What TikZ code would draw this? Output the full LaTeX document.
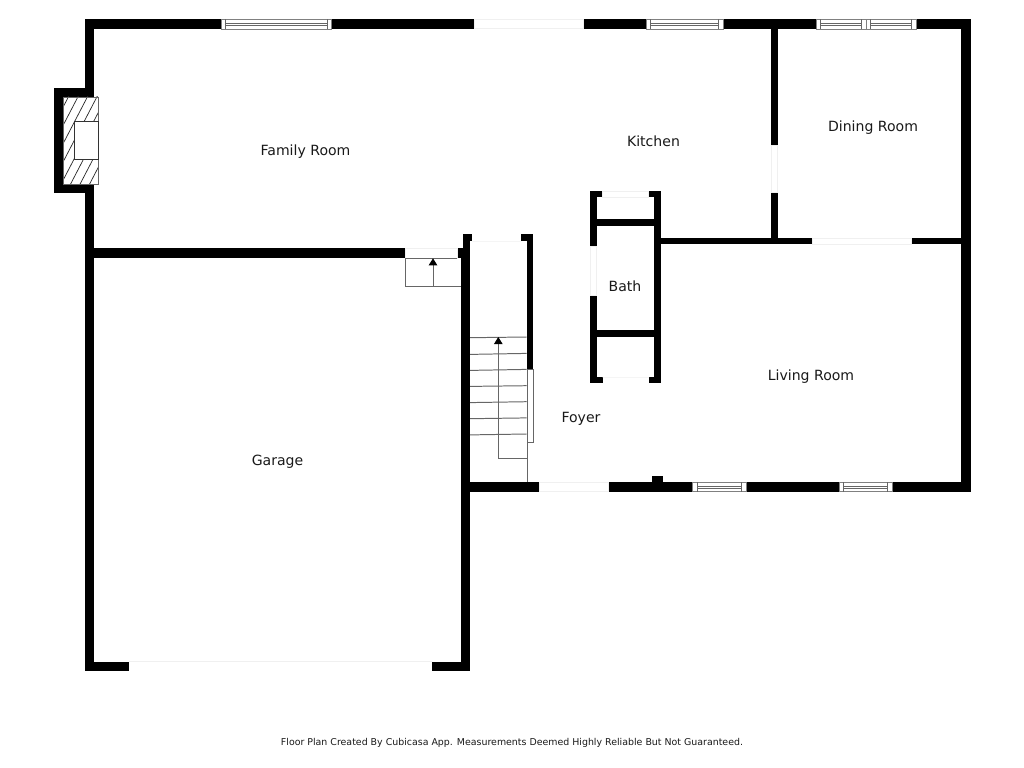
\documentclass[tikz,border=0pt]{standalone}
\usepackage{fontspec}
\setmainfont{DejaVu Sans}
\usetikzlibrary{arrows.meta}
\tikzset{
  wall/.style={fill=black},
  gap/.style={fill=white,draw=black!6,line width=0.5pt},
  fine/.style={draw=black!60,line width=0.7pt},
  pane/.style={draw=black!50,fill=white,line width=0.7pt},
  stairarrow/.style={fine,-{Triangle[length=5pt,width=6pt,color=black]}},
  roomlabel/.style={font=\fontsize{10}{12}\selectfont,text=black!90},
}
% window in a horizontal wall: left, right, top, bottom
\newcommand{\wallwindow}[4]{
\draw[pane] (#1,#3) rectangle (#2,#4);
\draw[fine] (#1+4.3,#3) -- (#1+4.3,#4);
\draw[fine] (#2-4.3,#3) -- (#2-4.3,#4);
\draw[fine] (#1+4.3,#3+4) -- (#2-4.3,#3+4);
\draw[fine] (#1+4.3,#3+6.5) -- (#2-4.3,#3+6.5);
}
\begin{document}
\begin{tikzpicture}[x=0.025cm,y=-0.025cm]
\useasboundingbox (0,0) rectangle (1024,768);

% outer walls
\fill[wall] (85,19.3) rectangle (221,29);
\fill[wall] (331,19.3) rectangle (474,29);
\fill[wall] (583,19.3) rectangle (646,29);
\fill[wall] (723,19.3) rectangle (816,29);
\fill[wall] (916,19.3) rectangle (970.7,29);
\fill[wall] (961,19.3) rectangle (970.7,491.7);
\fill[wall] (85,19.3) rectangle (94.3,670.7);
\fill[wall] (85,661.5) rectangle (129,670.7);
\fill[wall] (432,661.5) rectangle (470,670.7);
\fill[wall] (470,482.3) rectangle (539.3,491.7);
\fill[wall] (608,482.3) rectangle (692.7,491.7);
\fill[wall] (746,482.3) rectangle (839,491.7);
\fill[wall] (892,482.3) rectangle (970.7,491.7);
\fill[wall] (652.3,476) rectangle (662.7,482.3);

% fireplace
\fill[wall] (54,87.7) rectangle (94.3,193);
\begin{scope}
\clip (63.7,97) rectangle (98.3,184);
\fill[white] (63.7,97) rectangle (98.3,184);
\foreach \hx in {0,...,14} {\draw[black!85,line width=0.5pt] (20+9.5*\hx,190) -- (20+9.5*\hx+52,90);}
\end{scope}
\draw[fine] (63.7,97) rectangle (98.3,184);
\draw[pane,draw=black!80] (74.7,121.7) rectangle (98.3,159.3);

% inner walls
\fill[wall] (94,248.3) rectangle (405.7,258.3);
\fill[wall] (457.3,248.3) rectangle (470,258.3);
\fill[wall] (460.7,248.3) rectangle (470,670.7);
\fill[wall] (463.3,234.3) rectangle (470,248.3);
\fill[wall] (463.3,234.3) rectangle (472.3,241);
\fill[wall] (526.7,234.3) rectangle (533.3,369.3);
\fill[wall] (521.3,234.3) rectangle (533.3,241);
\fill[wall] (771,29) rectangle (777.7,145);
\fill[wall] (771,192.7) rectangle (777.7,240);
\fill[wall] (660,237.7) rectangle (812,244.3);
\fill[wall] (911,237.7) rectangle (961,244.3);

% bath
\fill[wall] (590,190.7) rectangle (596.7,246.7);
\fill[wall] (590,295.7) rectangle (596.7,383.3);
\fill[wall] (654,190.7) rectangle (660.7,383.3);
\fill[wall] (590,190.7) rectangle (602.7,197);
\fill[wall] (648.3,190.7) rectangle (660.7,197);
\fill[wall] (590,376.7) rectangle (602.7,383.3);
\fill[wall] (649,376.7) rectangle (660.7,383.3);
\fill[wall] (596,219.3) rectangle (654,225.7);
\fill[wall] (596,330) rectangle (654,336.7);

% openings
\draw[gap] (474,19.5) rectangle (583,28.5);
\draw[gap] (539.3,482.8) rectangle (608,491.2);
\draw[gap] (129,661.8) rectangle (432,661.8);
\draw[gap] (812,238) rectangle (911,244);
\draw[gap] (771.3,145) rectangle (777.4,192.7);
\draw[gap] (590.3,246.7) rectangle (596.4,295.7);
\draw[gap] (602.7,191) rectangle (648.3,197);
\draw[gap] (602.7,377) rectangle (649,377);
\draw[gap] (472.3,241) rectangle (521.3,241);
\draw[gap] (405.7,248.6) rectangle (457.3,258);

% windows
\wallwindow{221}{331.5}{19.3}{29}
\wallwindow{646}{723}{19.3}{29}
\wallwindow{816}{866}{19.3}{29}
\wallwindow{866}{916}{19.3}{29}
\wallwindow{692.7}{746}{482.3}{491.7}
\wallwindow{839}{892}{482.3}{491.7}

% steps from the garage
\coordinate (landingtail) at (433,286);
\coordinate (landinghead) at (433,258.3);
\draw[fine] (405.7,258.3) -- (405.7,286) -- (460.7,286);
\draw[fine] (405.7,258.3) -- (457.3,258.3);
\draw[stairarrow] (landingtail) -- (landinghead);

% main stairs
\coordinate (stairtail) at (527,458);
\coordinate (stairturn) at (498.3,458);
\coordinate (stairhead) at (498.3,337);
\draw[fine] (470,337.7) -- (526.7,337);
\draw[fine] (470,354.4) -- (526.7,353.4);
\draw[fine] (470,370.4) -- (526.7,369.4);
\draw[fine] (470,386.4) -- (526.7,385.7);
\draw[fine] (470,402.6) -- (526.7,401.7);
\draw[fine] (470,418.7) -- (526.7,417.9);
\draw[fine] (470,434.9) -- (526.7,434);
\draw[fine] (527,369) -- (527,482.3);
\draw[fine,fill=white] (527.3,369.3) rectangle (533.3,442.7);
\draw[stairarrow] (stairtail) -- (stairturn) -- (stairhead);

% rooms
\node[roomlabel] (family) at (305.5,151.5) {Family Room};
\node[roomlabel] (kitchen) at (653.5,141) {Kitchen};
\node[roomlabel] (dining) at (873,128) {Dining Room};
\node[roomlabel] (bath) at (625,286) {Bath};
\node[roomlabel] (living) at (811,377) {Living Room};
\node[roomlabel] (foyer) at (581,418.5) {Foyer};
\node[roomlabel] (garage) at (277.5,461.5) {Garage};
\node[font=\fontsize{6.7}{9}\selectfont,text=black!90] (credit) at (512,743) {Floor Plan Created By Cubicasa App. Measurements Deemed Highly Reliable But Not Guaranteed.};
\end{tikzpicture}
\end{document}
